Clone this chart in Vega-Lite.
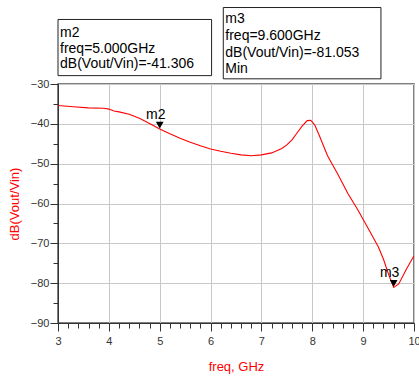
{
  "$schema": "https://vega.github.io/schema/vega-lite/v6.json",
  "width": 356,
  "height": 239,
  "autosize": "none",
  "padding": {"left": 58, "top": 84, "right": 5, "bottom": 53},
  "config": {
    "font": "Liberation Sans",
    "view": {"stroke": "#555555", "strokeWidth": 1.5},
    "axis": {
      "domainColor": "#333333",
      "tickColor": "#333333",
      "labelColor": "#333333",
      "labelFont": "Liberation Sans",
      "labelFontSize": 11,
      "gridColor": "#c8c8c8",
      "titleFont": "Liberation Sans",
      "titleFontWeight": "normal",
      "titleColor": "#ff0000",
      "titleFontSize": 13
    }
  },
  "datasets": {
    "curve": [
      {"freq": 3.0, "db": -35.4},
      {"freq": 3.3, "db": -35.7},
      {"freq": 3.6, "db": -36.0},
      {"freq": 3.9, "db": -36.1},
      {"freq": 4.0, "db": -36.3},
      {"freq": 4.1, "db": -36.8},
      {"freq": 4.2, "db": -37.0},
      {"freq": 4.4, "db": -37.6},
      {"freq": 4.6, "db": -38.6},
      {"freq": 4.8, "db": -39.9},
      {"freq": 5.0, "db": -41.306},
      {"freq": 5.2, "db": -42.5},
      {"freq": 5.4, "db": -43.6},
      {"freq": 5.6, "db": -44.6},
      {"freq": 5.8, "db": -45.5},
      {"freq": 6.0, "db": -46.3},
      {"freq": 6.2, "db": -46.9},
      {"freq": 6.4, "db": -47.4},
      {"freq": 6.6, "db": -47.8},
      {"freq": 6.8, "db": -48.0},
      {"freq": 7.0, "db": -47.8},
      {"freq": 7.2, "db": -47.3},
      {"freq": 7.4, "db": -46.2},
      {"freq": 7.5, "db": -45.3},
      {"freq": 7.6, "db": -44.0},
      {"freq": 7.7, "db": -42.3},
      {"freq": 7.8, "db": -40.6},
      {"freq": 7.9, "db": -39.2},
      {"freq": 7.97, "db": -39.1},
      {"freq": 8.05, "db": -40.3},
      {"freq": 8.15, "db": -43.3},
      {"freq": 8.3, "db": -48.0},
      {"freq": 8.5, "db": -52.6},
      {"freq": 8.7, "db": -57.5},
      {"freq": 8.9, "db": -61.7},
      {"freq": 9.1, "db": -66.3},
      {"freq": 9.3, "db": -70.9},
      {"freq": 9.4, "db": -74.0},
      {"freq": 9.5, "db": -77.8},
      {"freq": 9.6, "db": -81.053},
      {"freq": 9.7, "db": -80.2},
      {"freq": 9.85, "db": -76.5},
      {"freq": 10.0, "db": -73.1}
    ],
    "markers": [
      {"freq": 5.0, "db": -41.306, "name": "m2"},
      {"freq": 9.6, "db": -81.053, "name": "m3"}
    ],
    "boxes": [
      {"x1": 3.0, "x2": 6.02, "y1": -13.8, "y2": -27.9},
      {"x1": 6.25, "x2": 9.35, "y1": -10.8, "y2": -28.7}
    ],
    "labels": [
      {"freq": 3.04, "db": -17.1, "t": "m2"},
      {"freq": 3.04, "db": -21.1, "t": "freq=5.000GHz"},
      {"freq": 3.04, "db": -25.1, "t": "dB(Vout/Vin)=-41.306"},
      {"freq": 6.29, "db": -13.8, "t": "m3"},
      {"freq": 6.29, "db": -18.0, "t": "freq=9.600GHz"},
      {"freq": 6.29, "db": -22.1, "t": "dB(Vout/Vin)=-81.053"},
      {"freq": 6.29, "db": -26.3, "t": "Min"}
    ]
  },
  "resolve": {"axis": {"x": "independent", "y": "independent"}},
  "layer": [
    {
      "data": {"name": "markers"},
      "mark": {"type": "point", "opacity": 0},
      "encoding": {
        "x": {
          "field": "freq", "type": "quantitative",
          "scale": {"domain": [3, 10], "nice": false, "zero": false},
          "axis": {
            "orient": "bottom",
            "values": [3, 4, 5, 6, 7, 8, 9, 10],
            "grid": true,
            "labels": false,
            "domain": false,
            "ticks": true,
            "tickSize": 8,
            "title": null
          }
        },
        "y": {
          "field": "db", "type": "quantitative",
          "scale": {"domain": [-90, -30], "nice": false, "zero": false},
          "axis": {
            "orient": "left",
            "values": [-90, -80, -70, -60, -50, -40, -30],
            "grid": true,
            "labels": false,
            "domain": false,
            "ticks": true,
            "tickSize": 8,
            "title": null
          }
        }
      }
    },
    {
      "data": {"name": "curve"},
      "mark": {"type": "line", "color": "#ff0000", "strokeWidth": 1.1, "clip": true},
      "encoding": {
        "x": {
          "field": "freq", "type": "quantitative",
          "axis": {
            "orient": "bottom",
            "title": "freq, GHz",
            "titlePadding": 14,
            "grid": false,
            "values": [3,3.2,3.4,3.6,3.8,4,4.2,4.4,4.6,4.8,5,5.2,5.4,5.6,5.8,6,6.2,6.4,6.6,6.8,7,7.2,7.4,7.6,7.8,8,8.2,8.4,8.6,8.8,9,9.2,9.4,9.6,9.8,10],
            "labelExpr": "abs(datum.value - round(datum.value)) < 0.001 ? format(datum.value, 'd') : ''",
            "tickSize": 5,
            "labelPadding": 7,
            "labelFlush": false,
            "labelOverlap": false
          }
        },
        "y": {
          "field": "db", "type": "quantitative",
          "axis": {
            "orient": "left",
            "title": "dB(Vout/Vin)",
            "titlePadding": 9,
            "grid": false,
            "values": [-90,-85,-80,-75,-70,-65,-60,-55,-50,-45,-40,-35,-30],
            "labelExpr": "abs(datum.value % 10) < 0.001 ? format(datum.value, 'd') : ''",
            "tickSize": 5,
            "labelPadding": 4,
            "labelFlush": false,
            "labelOverlap": false
          }
        }
      }
    },
    {
      "data": {"name": "markers"},
      "mark": {"type": "point", "shape": "triangle-down", "filled": true, "color": "#000000", "size": 60, "opacity": 1},
      "encoding": {
        "x": {"field": "freq", "type": "quantitative", "axis": null},
        "y": {"field": "db", "type": "quantitative", "axis": null},
        "yOffset": {"value": -4}
      }
    },
    {
      "data": {"name": "markers"},
      "mark": {"type": "text", "fontSize": 14, "color": "#000000", "baseline": "alphabetic", "align": "center", "dx": -4, "dy": -10},
      "encoding": {
        "x": {"field": "freq", "type": "quantitative", "axis": null},
        "y": {"field": "db", "type": "quantitative", "axis": null},
        "text": {"field": "name"}
      }
    },
    {
      "data": {"name": "boxes"},
      "mark": {"type": "rect", "fill": null, "fillOpacity": 0, "stroke": "#222222", "strokeWidth": 1},
      "encoding": {
        "x": {"field": "x1", "type": "quantitative", "axis": null},
        "x2": {"field": "x2"},
        "y": {"field": "y1", "type": "quantitative", "axis": null},
        "y2": {"field": "y2"}
      }
    },
    {
      "data": {"name": "labels"},
      "mark": {"type": "text", "fontSize": 14, "color": "#000000", "align": "left", "baseline": "middle"},
      "encoding": {
        "x": {"field": "freq", "type": "quantitative", "axis": null},
        "y": {"field": "db", "type": "quantitative", "axis": null},
        "text": {"field": "t"}
      }
    }
  ]
}
